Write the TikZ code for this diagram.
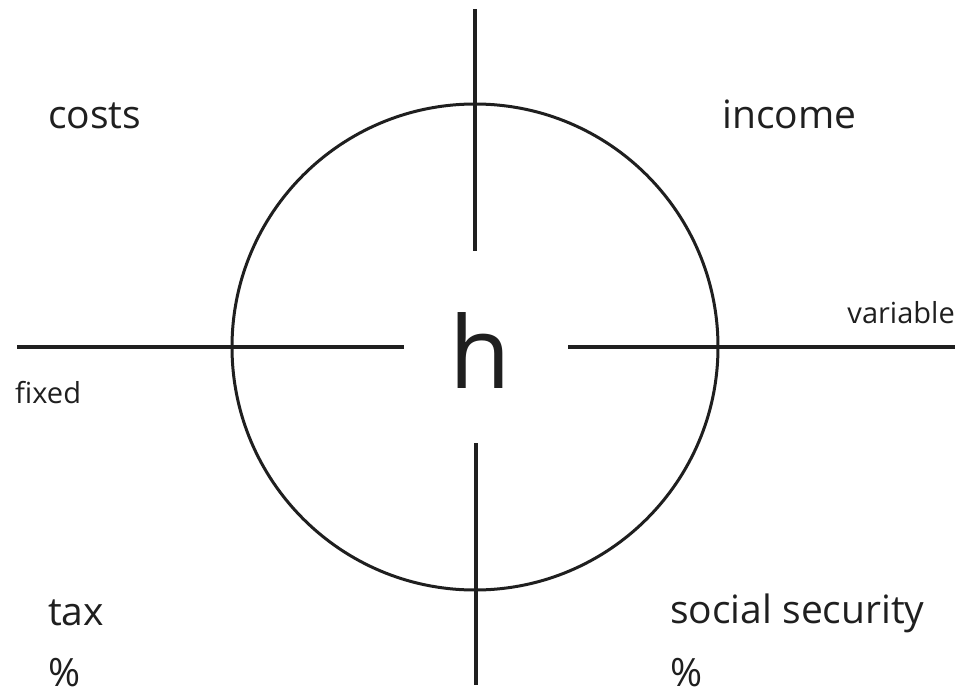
\documentclass[tikz,border=0pt]{standalone}
\usepackage{fontspec}
\setmainfont{Open Sans}
\begin{document}
\begin{tikzpicture}[x=1pt,y=-1pt,
  lbl/.style={anchor=base west,inner sep=0pt,font=\fontsize{39}{47}\selectfont,text=black!88},
  small/.style={inner sep=0pt,font=\fontsize{29}{35}\selectfont,text=black!88},
  axis/.style={line width=4.5pt,black!88},
  ring/.style={circle,draw=black!88,line width=3pt,minimum size=486pt,inner sep=0pt}]
\useasboundingbox (0,0) rectangle (967,696);
\node[ring] (c) at (475,347) {};
\node[anchor=base,inner sep=0pt,font=\fontsize{100}{110}\selectfont,text=black!88] (h) at (480,388) {h};
\coordinate (t1) at (475,9);
\coordinate (t2) at (475,251);
\coordinate (b1) at (476,443);
\coordinate (b2) at (476,685);
\coordinate (l1) at (17,347);
\coordinate (l2) at (404,347);
\coordinate (r1) at (568,347);
\coordinate (r2) at (955,347);
\draw[axis] (t1) -- (t2);
\draw[axis] (b1) -- (b2);
\draw[axis] (l1) -- (l2);
\draw[axis] (r1) -- (r2);
\node[lbl] (costs) at (48,128) {costs};
\node[lbl] (income) at (722,128) {income};
\node[small,anchor=base east] (var) at (955,323) {variable};
\node[small,anchor=base west] (fix) at (15,403) {fixed};
\node[lbl] (tax) at (48,625) {tax};
\node[lbl] (pc1) at (48,686) {\%};
\node[lbl] (soc) at (670,623) {social security};
\node[lbl] (pc2) at (670,686) {\%};
\end{tikzpicture}
\end{document}
